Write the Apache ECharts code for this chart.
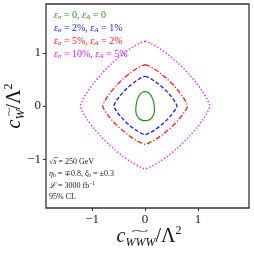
<!DOCTYPE html>
<html><head><meta charset="utf-8">
<script src="https://cdn.jsdelivr.net/npm/echarts@6/dist/echarts.min.js"></script>
<style>html,body{margin:0;padding:0;background:#fff}#c{width:254px;height:254px}</style>
</head><body><div id="c"></div>
<script>
const xTicks = [-1, 0, 1];
const yTicks = [-1, 0, 1];
const seriesNames = ['ε_σ = 0, ε_A = 0', 'ε_σ = 2%, ε_A = 1%', 'ε_σ = 5%, ε_A = 2%', 'ε_σ = 10%, ε_A = 5%'];
const greenPts = [[0,0.27],[0.06,0.255],[0.11,0.2],[0.15,0.11],[0.172,0.0],[0.176,-0.08],[0.158,-0.17],[0.11,-0.24],[0.05,-0.27],[0,-0.275],
 [-0.05,-0.27],[-0.11,-0.24],[-0.158,-0.17],[-0.176,-0.08],[-0.172,0.0],[-0.15,0.11],[-0.11,0.2],[-0.06,0.255],[0,0.27]];
const bluePts = [[0,0.56],[0.05,0.543],[0.124,0.504],[0.208,0.448],[0.30,0.375],[0.402,0.28],[0.48,0.194],[0.54,0.115],[0.582,0.046],[0.60,0],
 [0.582,-0.045],[0.54,-0.111],[0.48,-0.187],[0.402,-0.27],[0.30,-0.362],[0.208,-0.432],[0.124,-0.486],[0.05,-0.524],[0,-0.54],
 [-0.049,-0.524],[-0.122,-0.486],[-0.204,-0.432],[-0.295,-0.362],[-0.395,-0.27],[-0.472,-0.187],[-0.531,-0.111],[-0.572,-0.045],[-0.59,0],
 [-0.572,0.046],[-0.531,0.115],[-0.472,0.194],[-0.395,0.28],[-0.295,0.375],[-0.204,0.448],[-0.122,0.504],[-0.049,0.543],[0,0.56]];
const redPts = [[0,0.78],[0.066,0.757],[0.165,0.702],[0.277,0.624],[0.40,0.523],[0.536,0.39],[0.64,0.27],[0.72,0.161],[0.776,0.065],[0.80,0],
 [0.776,-0.06],[0.72,-0.148],[0.64,-0.249],[0.536,-0.36],[0.40,-0.482],[0.277,-0.576],[0.165,-0.648],[0.066,-0.698],[0,-0.72],
 [-0.066,-0.698],[-0.165,-0.648],[-0.277,-0.576],[-0.40,-0.482],[-0.536,-0.36],[-0.64,-0.249],[-0.72,-0.148],[-0.776,-0.06],[-0.80,0],
 [-0.776,0.065],[-0.72,0.161],[-0.64,0.27],[-0.536,0.39],[-0.40,0.523],[-0.277,0.624],[-0.165,0.702],[-0.066,0.757],[0,0.78]];
const purplePts = [[0,1.22],[0.101,1.183],[0.251,1.098],[0.422,0.976],[0.61,0.817],[0.817,0.61],[0.976,0.422],[1.098,0.251],[1.183,0.101],[1.22,0],
 [1.183,-0.098],[1.098,-0.243],[0.976,-0.408],[0.817,-0.59],[0.61,-0.791],[0.422,-0.944],[0.251,-1.062],[0.101,-1.145],[0,-1.18],
 [-0.101,-1.145],[-0.251,-1.062],[-0.422,-0.944],[-0.61,-0.791],[-0.817,-0.59],[-0.976,-0.408],[-1.098,-0.243],[-1.183,-0.098],[-1.22,0],
 [-1.183,0.101],[-1.098,0.251],[-0.976,0.422],[-0.817,0.61],[-0.61,0.817],[-0.422,0.976],[-0.251,1.098],[-0.101,1.183],[0,1.22]];

const colors = ['#2a8f2a', '#1a1aff', '#ff1a1a', '#d21ee6'];
const SERIF = '"Liberation Serif", "DejaVu Serif", serif';
const fmt = v => String(v).replace('-', '\u2212');

function mkSeries(name, pts, color, type, width) {
  return { name, type: 'line', data: pts, showSymbol: false, smooth: 0.3, clip: true,
    lineStyle: { color, width, type }, silent: true, animation: false };
}
const subRich = {
  e: { fontFamily: SERIF, fontStyle: 'italic', fontSize: 10, lineHeight: 12 },
  s: { fontFamily: SERIF, fontStyle: 'italic', fontSize: 7, lineHeight: 8, verticalAlign: 'bottom' },
  n: { fontFamily: SERIF, fontSize: 10, lineHeight: 12 }
};
function legendText(i, y, a, b) {
  const rich = {};
  for (const k in subRich) rich[k] = Object.assign({}, subRich[k], { fill: colors[i] });
  return { type: 'text', x: 54, y, style: { text: '{e|ε}{s|σ}{n| = ' + a + ', }{e|ε}{s|A}{n| = ' + b + '}', rich, fill: colors[i], verticalAlign: 'middle', align: 'left' } };
}
const annRich = {
  n: { fontFamily: SERIF, fontSize: 8, fill: '#222', lineHeight: 10 },
  i: { fontFamily: SERIF, fontStyle: 'italic', fontSize: 8, fill: '#222', lineHeight: 10 },
  s: { fontFamily: SERIF, fontSize: 5.5, fill: '#222', lineHeight: 6, verticalAlign: 'bottom' },
  p: { fontFamily: SERIF, fontSize: 5.5, fill: '#222', lineHeight: 6, verticalAlign: 'top' }
};
const titleRich = {
  c: { fontFamily: SERIF, fontStyle: 'italic', fontSize: 20, fill: '#111', lineHeight: 24 },
  s: { fontFamily: SERIF, fontStyle: 'italic', fontSize: 12, fill: '#111', lineHeight: 12, verticalAlign: 'bottom' },
  n: { fontFamily: SERIF, fontSize: 20, fill: '#111', lineHeight: 24 },
  p: { fontFamily: SERIF, fontSize: 12, fill: '#111', lineHeight: 12, verticalAlign: 'top' }
};

const chart = echarts.init(document.getElementById('c'), null, { renderer: 'canvas' });
chart.setOption({
  animation: false,
  grid: { left: 46, right: 5, top: 4, bottom: 46, show: true, borderColor: '#333', borderWidth: 1.3, backgroundColor: 'transparent' },
  xAxis: { type: 'value', min: -1.87, max: 1.96, splitLine: { show: false }, axisLine: { show: false, onZero: false },
    axisTick: { show: true, customValues: xTicks, length: 3, lineStyle: { color: '#333', width: 1 } },
    axisLabel: { customValues: xTicks, formatter: fmt, fontFamily: SERIF, fontSize: 13, color: '#222', margin: 5 } },
  yAxis: { type: 'value', min: -1.92, max: 1.92, splitLine: { show: false }, axisLine: { show: false, onZero: false },
    axisTick: { show: true, customValues: yTicks, length: 3, lineStyle: { color: '#333', width: 1 } },
    axisLabel: { customValues: yTicks, formatter: fmt, fontFamily: SERIF, fontSize: 13, color: '#222', margin: 5 } },
  series: [
    mkSeries(seriesNames[0], greenPts, colors[0], 'solid', 1.2),
    mkSeries(seriesNames[1], bluePts, colors[1], [4, 2], 1.3),
    mkSeries(seriesNames[2], redPts, colors[2], [5, 2, 1.2, 2], 1.3),
    mkSeries(seriesNames[3], purplePts, colors[3], [1.2, 2.2], 1.5)
  ],
  graphic: [
    legendText(0, 15, '0', '0'),
    legendText(1, 28, '2%', '1%'),
    legendText(2, 41, '5%', '2%'),
    legendText(3, 54, '10%', '5%'),
    { type: 'text', x: 49, y: 162, style: { text: '{n|√}{i|s}{n| = 250 GeV}', rich: annRich, verticalAlign: 'middle' } },
    { type: 'line', shape: { x1: 54, y1: 157.5, x2: 58, y2: 157.5 }, style: { stroke: '#222', lineWidth: 0.6 } },
    { type: 'text', x: 49, y: 174, style: { text: '{i|η}{s|b}{n| = ∓0.8, }{i|ξ}{s|b}{n| = ±0.3}', rich: annRich, verticalAlign: 'middle' } },
    { type: 'text', x: 49, y: 186, style: { text: '{i|ℒ}{n| = 3000 fb}{p|−1}', rich: annRich, verticalAlign: 'middle' } },
    { type: 'text', x: 49, y: 197, style: { text: '{n|95% CL}', rich: annRich, verticalAlign: 'middle' } },
    { type: 'text', x: 149, y: 237, style: { text: '{c|c}{s|WWW}{n|/Λ}{p|2}', rich: titleRich, align: 'center', verticalAlign: 'middle' } },
    { type: 'text', x: 140, y: 231, scaleX: 3.2, scaleY: 1, style: { text: '~', fontFamily: SERIF, fontSize: 10, fill: '#111', align: 'center', verticalAlign: 'middle' } },
    { type: 'text', x: 15, y: 106, rotation: Math.PI / 2, style: { text: '{c|c}{s|W}{n|/Λ}{p|2}', rich: titleRich, align: 'center', verticalAlign: 'middle' } },
    { type: 'text', x: 9, y: 112, rotation: Math.PI / 2, scaleX: 1.6, style: { text: '~', fontFamily: SERIF, fontSize: 10, fill: '#111', align: 'center', verticalAlign: 'middle' } }
  ]
});
</script></body></html>
